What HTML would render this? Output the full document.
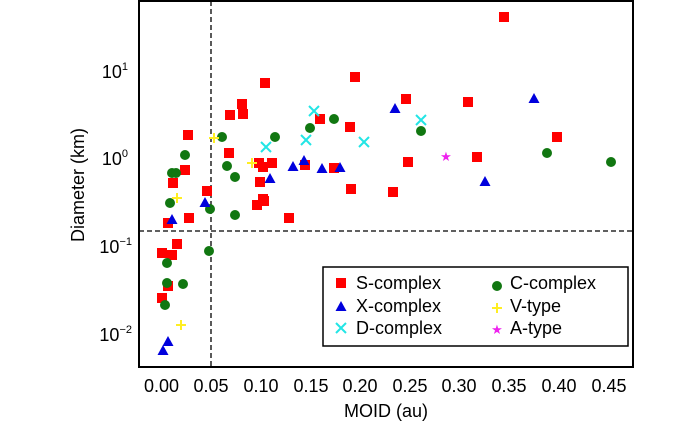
<!DOCTYPE html>
<html><head><meta charset="utf-8"><style>
html,body{margin:0;padding:0;background:#fff;}
svg{display:block;font-family:"Liberation Sans",sans-serif;}
</style></head><body>
<svg width="700" height="424" viewBox="0 0 700 424" xmlns="http://www.w3.org/2000/svg">
<defs>
<rect id="sq" x="-5" y="-5" width="10" height="10" fill="#ff0000"/>
<circle id="ci" r="5" fill="#117711"/>
<polygon id="tr" points="0,-6 5.5,4 -5.5,4" fill="#0000dd"/>
<path id="cx" d="M-5,-5L5,5M-5,5L5,-5" stroke="#22e5e5" stroke-width="2"/>
<path id="pl" d="M-5,0H5M0,-5V5" stroke="#ffee22" stroke-width="2"/>
</defs>
<rect x="139" y="1" width="494" height="366" fill="none" stroke="#000" stroke-width="2"/>
<line x1="211" y1="1" x2="211" y2="367" stroke="#000" stroke-width="1.3" stroke-dasharray="5,3"/>
<line x1="139" y1="231" x2="633" y2="231" stroke="#000" stroke-width="1.3" stroke-dasharray="5,3"/>
<g stroke="#000" stroke-width="1.2" id="yt"></g>
<g fill="#000" font-size="18" text-anchor="end">
<text x="128" y="78">10<tspan font-size="11" dy="-8">1</tspan></text>
<text x="128" y="165">10<tspan font-size="11" dy="-8">0</tspan></text>
<text x="132" y="253">10<tspan font-size="11" dy="-8">−1</tspan></text>
<text x="132" y="341">10<tspan font-size="11" dy="-8">−2</tspan></text>
</g>
<g font-size="18" text-anchor="middle" fill="#000">
<text x="161.5" y="392">0.00</text><text x="211" y="392">0.05</text><text x="261" y="392">0.10</text>
<text x="311" y="392">0.15</text><text x="360" y="392">0.20</text><text x="410" y="392">0.25</text>
<text x="459" y="392">0.30</text><text x="509" y="392">0.35</text><text x="559" y="392">0.40</text>
<text x="609" y="392">0.45</text>
<text x="386" y="417">MOID (au)</text>
<text transform="translate(84,185) rotate(-90)">Diameter (km)</text>
</g>
<g id="pts">
<use href="#sq" x="188" y="135"/><use href="#sq" x="173" y="183"/><use href="#sq" x="185" y="170"/>
<use href="#sq" x="207" y="191"/><use href="#sq" x="265" y="83"/><use href="#sq" x="230" y="115"/>
<use href="#sq" x="242" y="104"/><use href="#sq" x="243" y="114"/><use href="#sq" x="229" y="153"/>
<use href="#sq" x="259" y="163"/><use href="#sq" x="263" y="167"/><use href="#sq" x="272" y="163"/>
<use href="#sq" x="260" y="182"/><use href="#sq" x="263" y="199"/><use href="#sq" x="305" y="165"/>
<use href="#sq" x="320" y="119"/><use href="#sq" x="355" y="77"/><use href="#sq" x="350" y="127"/>
<use href="#sq" x="334" y="168"/><use href="#sq" x="351" y="189"/>
<use href="#sq" x="257" y="205"/><use href="#sq" x="264" y="201"/><use href="#sq" x="289" y="218"/>
<use href="#sq" x="189" y="218"/><use href="#sq" x="168" y="223"/><use href="#sq" x="177" y="244"/>
<use href="#sq" x="162" y="253"/><use href="#sq" x="172" y="255"/><use href="#sq" x="168" y="286"/>
<use href="#sq" x="162" y="298"/>
<use href="#sq" x="504" y="17"/><use href="#sq" x="406" y="99"/><use href="#sq" x="468" y="102"/>
<use href="#sq" x="557" y="137"/><use href="#sq" x="408" y="162"/><use href="#sq" x="477" y="157"/>
<use href="#sq" x="393" y="192"/>
<use href="#ci" x="172" y="173"/><use href="#ci" x="176" y="173"/><use href="#ci" x="185" y="155"/>
<use href="#ci" x="222" y="137"/><use href="#ci" x="227" y="166"/><use href="#ci" x="235" y="177"/>
<use href="#ci" x="275" y="137"/><use href="#ci" x="310" y="128"/><use href="#ci" x="334" y="119"/>
<use href="#ci" x="170" y="203"/><use href="#ci" x="210" y="209"/><use href="#ci" x="235" y="215"/>
<use href="#ci" x="209" y="251"/><use href="#ci" x="167" y="263"/><use href="#ci" x="167" y="283"/>
<use href="#ci" x="183" y="284"/><use href="#ci" x="165" y="305"/>
<use href="#ci" x="421" y="131"/><use href="#ci" x="547" y="153"/><use href="#ci" x="611" y="162"/>
<use href="#tr" x="270" y="179"/><use href="#tr" x="293" y="167"/><use href="#tr" x="304" y="161"/>
<use href="#tr" x="322" y="169"/><use href="#tr" x="340" y="168"/><use href="#tr" x="205" y="203"/>
<use href="#tr" x="172" y="220"/><use href="#tr" x="168" y="342"/><use href="#tr" x="163" y="351"/>
<use href="#tr" x="395" y="109"/><use href="#tr" x="534" y="99"/><use href="#tr" x="485" y="182"/>
<use href="#cx" x="266" y="147"/><use href="#cx" x="314" y="111"/><use href="#cx" x="306" y="140"/>
<use href="#cx" x="364" y="142"/><use href="#cx" x="421" y="120"/>
<use href="#pl" x="214" y="138"/><use href="#pl" x="252" y="163"/><use href="#pl" x="177" y="198"/>
<use href="#pl" x="181" y="325"/>
<text x="446" y="161" font-size="13" fill="#ee22ee" text-anchor="middle">★</text>
</g>
<rect x="323" y="267" width="305" height="79" fill="#fff" stroke="#000" stroke-width="1.5"/>
<use href="#sq" x="341" y="283"/><use href="#tr" x="341" y="307"/><use href="#cx" x="341" y="328"/>
<use href="#ci" x="497" y="286"/><use href="#pl" x="497" y="308"/>
<text x="497" y="334" font-size="13" fill="#ee22ee" text-anchor="middle">★</text>
<g font-size="18" fill="#000">
<text x="356" y="289">S-complex</text><text x="356" y="312">X-complex</text><text x="356" y="334">D-complex</text>
<text x="510" y="289">C-complex</text><text x="510" y="312">V-type</text><text x="510" y="334">A-type</text>
</g>
<script>
var g=document.getElementById('yt'),s='';
var step=87.5;
for(var k=-3;k<=1;k++){var base=157-k*step;
 for(var m=1;m<10;m++){var y=base-Math.log10(m)*step; if(y<1||y>367)continue;
  var L=m==1?7:4; s+='<line x1="139" y1="'+y+'" x2="'+(139+L)+'" y2="'+y+'"/>';}}
var xs=[161.5,211,261,311,360,410,459,509,559,609];
xs.forEach(function(x){s+='<line x1="'+x+'" y1="367" x2="'+x+'" y2="360"/>';});
g.innerHTML=s;
</script>
</svg>
</body></html>
